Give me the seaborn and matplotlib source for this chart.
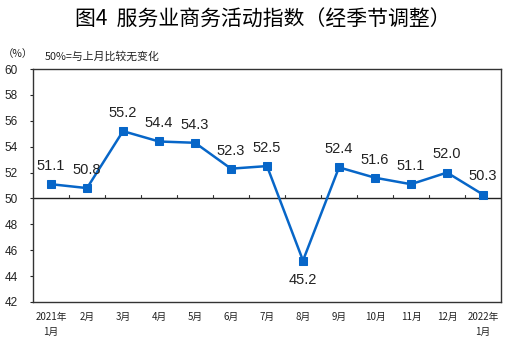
import matplotlib
matplotlib.use("Agg")
import matplotlib.pyplot as plt
import seaborn as sns
import pandas as pd

sns.set_theme(style="white")
plt.rcParams['font.family'] = ['Noto Sans CJK SC', 'DejaVu Sans']

months = ["2021年\n1月", "2月", "3月", "4月", "5月", "6月", "7月",
          "8月", "9月", "10月", "11月", "12月", "2022年\n1月"]
values = [51.1, 50.8, 55.2, 54.4, 54.3, 52.3, 52.5,
          45.2, 52.4, 51.6, 51.1, 52.0, 50.3]
y_ticks = [42, 44, 46, 48, 50, 52, 54, 56, 58, 60]

df = pd.DataFrame({"pos": range(len(months)), "value": values})
line_color = "#0766c8"
num_font = ["Liberation Sans", "DejaVu Sans"]

fig = plt.figure(figsize=(5.11, 3.43), dpi=100)
ax = fig.add_axes([33 / 511, 1 - 302 / 343, 468 / 511, 233 / 343])

sns.lineplot(data=df, x="pos", y="value", ax=ax, color=line_color,
             linewidth=1.8, marker="s", markersize=5.5,
             markeredgecolor=line_color, markerfacecolor=line_color)

ax.set_xlim(-0.5, len(months) - 0.5)
ax.set_ylim(42, 60)
ax.set_yticks(y_ticks)
ax.set_yticklabels([str(t) for t in y_ticks], fontsize=8.5, color="#222222",
                   family=num_font)
ax.set_xticks([])
ax.set_xlabel("")
ax.set_ylabel("")
ax.tick_params(axis="y", length=2, width=0.8, direction="out", pad=9, left=True)

for s in ax.spines.values():
    s.set_color("#333333")
    s.set_linewidth(1.0)

# 50 reference line with boundary ticks
ax.axhline(50, color="#222222", linewidth=1.0, zorder=1)
for b in range(1, len(months)):
    ax.plot([b - 0.5, b - 0.5], [50, 50.25], color="#333333", linewidth=0.8, zorder=1)

# month labels below the axes
for i, m in enumerate(months):
    ax.text(i, 41.2, m, ha="center", va="top", fontsize=7, color="#222222",
            linespacing=1.6, transform=ax.transData, clip_on=False)

# value labels
for i, v in enumerate(values):
    if v < 50:
        ax.annotate(f"{v:.1f}", (i, v), xytext=(0, -9), textcoords="offset points",
                    ha="center", va="top", fontsize=10.5, color="#222222",
                    family=num_font)
    else:
        ax.annotate(f"{v:.1f}", (i, v), xytext=(0, 8), textcoords="offset points",
                    ha="center", va="bottom", fontsize=10.5, color="#222222",
                    family=num_font)

fig.text(263 / 511, 1 - 20 / 343, "图4  服务业商务活动指数（经季节调整）",
         ha="center", va="center", fontsize=15, fontweight="medium", color="#000000")
fig.text(18 / 511, 1 - 54 / 343, "（%）", ha="center", va="center", fontsize=7.5,
         color="#222222")
fig.text(45 / 511, 1 - 56 / 343, "50%=与上月比较无变化", ha="left", va="center",
         fontsize=7.8, color="#222222")

fig.savefig("out.png", dpi=100)
